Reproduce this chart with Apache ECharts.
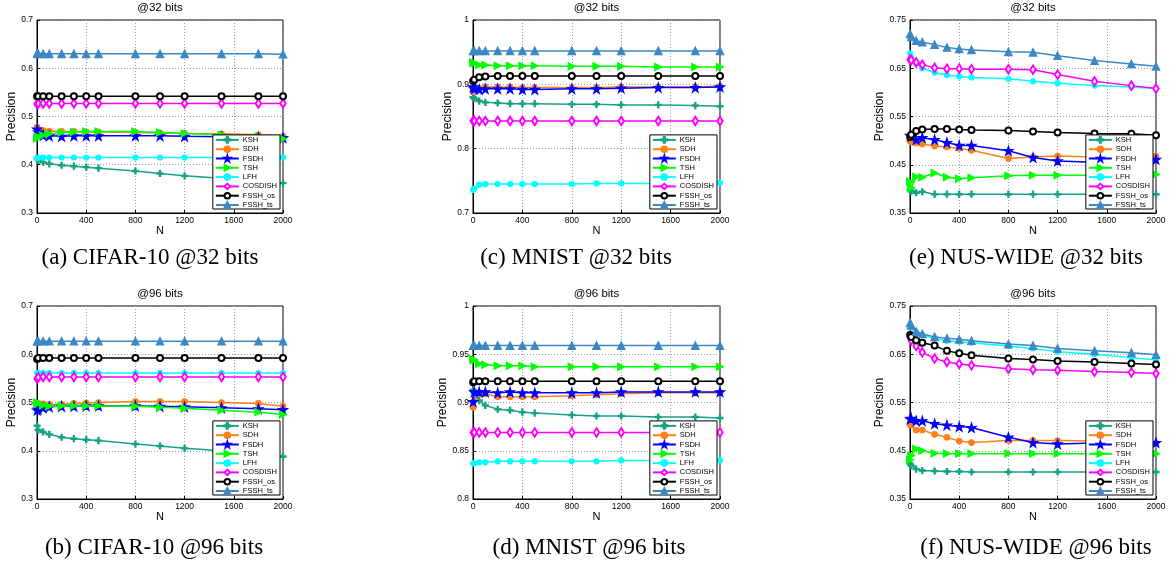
<!DOCTYPE html>
<html>
<head>
<meta charset="utf-8">
<script src="https://cdn.jsdelivr.net/npm/echarts@6/dist/echarts.min.js"></script>
<style>
  html, body { margin: 0; padding: 0; background: #fff; }
  #main { width: 1172px; height: 567px; }
</style>
</head>
<body>
<div id="main"></div>
<script>
// N values (x axis)
const nValues = [1, 10, 50, 100, 200, 300, 400, 500, 800, 1000, 1200, 1500, 1800, 2000];
const methods = ['KSH', 'SDH', 'FSDH', 'TSH', 'LFH', 'COSDISH', 'FSSH_os', 'FSSH_ts'];
const xTicks = [0, 400, 800, 1200, 1600, 2000];

// (a) CIFAR-10 @32 bits
const cifar32Ksh = [0.413, 0.409, 0.405, 0.402, 0.399, 0.397, 0.395, 0.393, 0.387, 0.382, 0.377, 0.372, 0.367, 0.362];
const cifar32Sdh = [0.478, 0.474, 0.471, 0.470, 0.469, 0.469, 0.468, 0.468, 0.467, 0.466, 0.465, 0.464, 0.462, 0.459];
const cifar32Fsdh = [0.474, 0.468, 0.461, 0.460, 0.459, 0.460, 0.460, 0.460, 0.460, 0.460, 0.459, 0.458, 0.457, 0.456];
const cifar32Tsh = [0.455, 0.458, 0.461, 0.464, 0.467, 0.468, 0.469, 0.469, 0.469, 0.467, 0.465, 0.462, 0.458, 0.454];
const cifar32Lfh = [0.414, 0.415, 0.415, 0.415, 0.415, 0.415, 0.415, 0.415, 0.415, 0.415, 0.415, 0.415, 0.415, 0.415];
const cifar32Cosdish = [0.526, 0.527, 0.527, 0.527, 0.527, 0.527, 0.527, 0.527, 0.527, 0.527, 0.527, 0.527, 0.527, 0.527];
const cifar32Os = [0.542, 0.542, 0.542, 0.542, 0.542, 0.542, 0.542, 0.542, 0.542, 0.542, 0.542, 0.542, 0.542, 0.542];
const cifar32Ts = [0.631, 0.630, 0.630, 0.630, 0.630, 0.630, 0.630, 0.630, 0.630, 0.630, 0.630, 0.630, 0.630, 0.629];

// (c) MNIST @32 bits
const mnist32Ksh = [0.880, 0.878, 0.874, 0.872, 0.871, 0.870, 0.870, 0.870, 0.869, 0.869, 0.868, 0.868, 0.867, 0.866];
const mnist32Sdh = [0.889, 0.891, 0.894, 0.896, 0.896, 0.896, 0.895, 0.895, 0.895, 0.895, 0.896, 0.896, 0.896, 0.897];
const mnist32Fsdh = [0.896, 0.893, 0.892, 0.893, 0.893, 0.893, 0.892, 0.892, 0.893, 0.893, 0.894, 0.895, 0.895, 0.896];
const mnist32Tsh = [0.934, 0.933, 0.930, 0.930, 0.929, 0.929, 0.929, 0.929, 0.928, 0.928, 0.928, 0.927, 0.927, 0.927];
const mnist32Lfh = [0.736, 0.738, 0.744, 0.745, 0.745, 0.745, 0.745, 0.745, 0.745, 0.746, 0.746, 0.746, 0.746, 0.747];
const mnist32Cosdish = [0.843, 0.843, 0.843, 0.843, 0.843, 0.843, 0.843, 0.843, 0.843, 0.843, 0.843, 0.843, 0.843, 0.843];
const mnist32Os = [0.905, 0.907, 0.911, 0.912, 0.913, 0.913, 0.913, 0.913, 0.913, 0.913, 0.913, 0.913, 0.913, 0.913];
const mnist32Ts = [0.952, 0.952, 0.952, 0.952, 0.952, 0.952, 0.952, 0.952, 0.952, 0.952, 0.952, 0.952, 0.952, 0.952];

// (e) NUS-WIDE @32 bits
const nus32Ksh = [0.398, 0.395, 0.392, 0.394, 0.389, 0.389, 0.389, 0.389, 0.389, 0.389, 0.389, 0.389, 0.389, 0.389];
const nus32Sdh = [0.499, 0.497, 0.495, 0.493, 0.489, 0.487, 0.484, 0.480, 0.463, 0.466, 0.468, 0.466, 0.466, 0.468];
const nus32Fsdh = [0.511, 0.509, 0.502, 0.506, 0.502, 0.496, 0.490, 0.490, 0.479, 0.465, 0.458, 0.455, 0.456, 0.461];
const nus32Tsh = [0.415, 0.402, 0.425, 0.424, 0.433, 0.424, 0.421, 0.423, 0.427, 0.428, 0.428, 0.428, 0.428, 0.430];
const nus32Lfh = [0.681, 0.672, 0.661, 0.650, 0.641, 0.636, 0.633, 0.631, 0.628, 0.623, 0.619, 0.614, 0.611, 0.608];
const nus32Cosdish = [0.668, 0.667, 0.662, 0.657, 0.651, 0.649, 0.649, 0.648, 0.648, 0.647, 0.637, 0.623, 0.614, 0.608];
const nus32Os = [0.508, 0.512, 0.520, 0.523, 0.524, 0.524, 0.523, 0.522, 0.521, 0.519, 0.517, 0.515, 0.514, 0.511];
const nus32Ts = [0.721, 0.715, 0.707, 0.704, 0.699, 0.693, 0.690, 0.688, 0.684, 0.683, 0.676, 0.666, 0.659, 0.654];

// (b) CIFAR-10 @96 bits
const cifar96Ksh = [0.452, 0.443, 0.439, 0.434, 0.428, 0.425, 0.423, 0.421, 0.414, 0.410, 0.405, 0.400, 0.395, 0.388];
const cifar96Sdh = [0.499, 0.498, 0.497, 0.496, 0.496, 0.498, 0.499, 0.500, 0.502, 0.502, 0.502, 0.500, 0.498, 0.492];
const cifar96Fsdh = [0.484, 0.486, 0.489, 0.491, 0.492, 0.492, 0.493, 0.493, 0.493, 0.492, 0.491, 0.489, 0.487, 0.485];
const cifar96Tsh = [0.500, 0.498, 0.494, 0.492, 0.493, 0.493, 0.493, 0.493, 0.492, 0.490, 0.488, 0.484, 0.480, 0.475];
const cifar96Lfh = [0.561, 0.561, 0.561, 0.561, 0.561, 0.561, 0.561, 0.561, 0.561, 0.561, 0.561, 0.561, 0.561, 0.561];
const cifar96Cosdish = [0.549, 0.552, 0.553, 0.553, 0.553, 0.553, 0.553, 0.553, 0.553, 0.553, 0.553, 0.553, 0.553, 0.553];
const cifar96Os = [0.590, 0.592, 0.592, 0.592, 0.592, 0.592, 0.592, 0.592, 0.592, 0.592, 0.592, 0.592, 0.592, 0.592];
const cifar96Ts = [0.627, 0.627, 0.627, 0.627, 0.627, 0.627, 0.627, 0.627, 0.627, 0.627, 0.627, 0.627, 0.627, 0.627];

// (d) MNIST @96 bits
const mnist96Ksh = [0.913, 0.910, 0.902, 0.897, 0.893, 0.892, 0.890, 0.889, 0.887, 0.886, 0.886, 0.885, 0.885, 0.884];
const mnist96Sdh = [0.895, 0.902, 0.909, 0.909, 0.906, 0.906, 0.906, 0.906, 0.907, 0.908, 0.909, 0.910, 0.910, 0.910];
const mnist96Fsdh = [0.901, 0.911, 0.911, 0.911, 0.910, 0.911, 0.910, 0.910, 0.910, 0.910, 0.911, 0.911, 0.911, 0.911];
const mnist96Tsh = [0.945, 0.944, 0.940, 0.939, 0.938, 0.938, 0.938, 0.937, 0.937, 0.937, 0.937, 0.937, 0.937, 0.937];
const mnist96Lfh = [0.837, 0.837, 0.838, 0.838, 0.839, 0.839, 0.839, 0.839, 0.839, 0.839, 0.840, 0.840, 0.840, 0.840];
const mnist96Cosdish = [0.869, 0.869, 0.869, 0.869, 0.869, 0.869, 0.869, 0.869, 0.869, 0.869, 0.869, 0.869, 0.869, 0.869];
const mnist96Os = [0.921, 0.922, 0.922, 0.922, 0.922, 0.922, 0.922, 0.922, 0.922, 0.922, 0.922, 0.922, 0.922, 0.922];
const mnist96Ts = [0.959, 0.959, 0.959, 0.959, 0.959, 0.959, 0.959, 0.959, 0.959, 0.959, 0.959, 0.959, 0.959, 0.959];

// (f) NUS-WIDE @96 bits
const nus96Ksh = [0.423, 0.419, 0.412, 0.409, 0.408, 0.407, 0.407, 0.406, 0.406, 0.406, 0.406, 0.406, 0.406, 0.406];
const nus96Sdh = [0.504, 0.503, 0.493, 0.493, 0.484, 0.478, 0.470, 0.467, 0.471, 0.471, 0.471, 0.470, 0.470, 0.465];
const nus96Fsdh = [0.516, 0.517, 0.512, 0.512, 0.506, 0.503, 0.500, 0.498, 0.478, 0.467, 0.464, 0.466, 0.468, 0.467];
const nus96Tsh = [0.431, 0.440, 0.454, 0.450, 0.445, 0.444, 0.444, 0.444, 0.444, 0.444, 0.444, 0.444, 0.444, 0.444];
const nus96Lfh = [0.708, 0.705, 0.695, 0.690, 0.683, 0.678, 0.676, 0.674, 0.667, 0.662, 0.655, 0.650, 0.643, 0.638];
const nus96Cosdish = [0.686, 0.679, 0.667, 0.654, 0.641, 0.634, 0.630, 0.627, 0.620, 0.618, 0.617, 0.614, 0.612, 0.610];
const nus96Os = [0.690, 0.686, 0.679, 0.674, 0.668, 0.657, 0.652, 0.648, 0.641, 0.639, 0.636, 0.634, 0.631, 0.629];
const nus96Ts = [0.715, 0.710, 0.697, 0.692, 0.686, 0.683, 0.681, 0.678, 0.671, 0.668, 0.662, 0.657, 0.653, 0.649];

// marker look of each method, same order as methods
const methodColors = ['#16a383', '#ff8019', '#0000ff', '#00ff00', '#00ffff', '#ff00ff', '#000000', '#3d88c4'];
const methodSymbols = [
  'path://M4,0H6V4H10V6H6V10H4V6H0V4H4Z',
  'circle',
  'path://M50,0L61,35L98,35L68,57L79,91L50,70L21,91L32,57L2,35L39,35Z',
  'path://M0,0L10,5L0,10Z',
  'circle',
  'emptyDiamond',
  'emptyCircle',
  'triangle'
];
const methodSymbolSizes = [6, 5.5, 9, 7, 5, [5.5, 8.5], 6, 7.5];

// panel layout
const panels = [
  { left: 37, top: 20, width: 246, min: 0.3, max: 0.7, step: 0.1, title: '@32 bits', caption: '(a) CIFAR-10 @32 bits', capX: 150, capY: 258,
    data: [cifar32Ksh, cifar32Sdh, cifar32Fsdh, cifar32Tsh, cifar32Lfh, cifar32Cosdish, cifar32Os, cifar32Ts] },
  { left: 473, top: 20, width: 247, min: 0.7, max: 1, step: 0.1, title: '@32 bits', caption: '(c) MNIST @32 bits', capX: 576, capY: 258,
    data: [mnist32Ksh, mnist32Sdh, mnist32Fsdh, mnist32Tsh, mnist32Lfh, mnist32Cosdish, mnist32Os, mnist32Ts] },
  { left: 910, top: 20, width: 246, min: 0.35, max: 0.75, step: 0.1, title: '@32 bits', caption: '(e) NUS-WIDE @32 bits', capX: 1026, capY: 258,
    data: [nus32Ksh, nus32Sdh, nus32Fsdh, nus32Tsh, nus32Lfh, nus32Cosdish, nus32Os, nus32Ts] },
  { left: 37, top: 306, width: 246, min: 0.3, max: 0.7, step: 0.1, title: '@96 bits', caption: '(b) CIFAR-10 @96 bits', capX: 154, capY: 548,
    data: [cifar96Ksh, cifar96Sdh, cifar96Fsdh, cifar96Tsh, cifar96Lfh, cifar96Cosdish, cifar96Os, cifar96Ts] },
  { left: 473, top: 306, width: 247, min: 0.8, max: 1, step: 0.05, title: '@96 bits', caption: '(d) MNIST @96 bits', capX: 589, capY: 548,
    data: [mnist96Ksh, mnist96Sdh, mnist96Fsdh, mnist96Tsh, mnist96Lfh, mnist96Cosdish, mnist96Os, mnist96Ts] },
  { left: 910, top: 306, width: 246, min: 0.35, max: 0.75, step: 0.1, title: '@96 bits', caption: '(f) NUS-WIDE @96 bits', capX: 1036, capY: 548,
    data: [nus96Ksh, nus96Sdh, nus96Fsdh, nus96Tsh, nus96Lfh, nus96Cosdish, nus96Os, nus96Ts] }
];
const plotHeight = 193;
const sans = 'Liberation Sans, Arial, sans-serif';

var grids = [], xAxes = [], yAxes = [], series = [], legends = [], graphics = [];

panels.forEach(function (p, k) {
  grids.push({
    left: p.left, top: p.top, width: p.width, height: plotHeight,
    show: true, borderColor: '#000', borderWidth: 1, backgroundColor: '#fff'
  });
  xAxes.push({
    type: 'value', gridIndex: k, min: 0, max: 2000, interval: 400,
    name: 'N', nameLocation: 'middle', nameGap: 12,
    nameTextStyle: { fontFamily: sans, fontSize: 11, color: '#000' },
    axisLine: { show: true, lineStyle: { color: '#000', width: 1 } },
    axisTick: { show: true, inside: true, length: 3, lineStyle: { color: '#000' } },
    axisLabel: { fontFamily: sans, fontSize: 8.5, color: '#000', margin: 3,
      formatter: function (v) { return xTicks.indexOf(v) >= 0 ? String(v) : ''; } },
    splitLine: { show: true, lineStyle: { type: [1, 2], color: '#9a9a9a', width: 1 } }
  });
  yAxes.push({
    type: 'value', gridIndex: k, min: p.min, max: p.max, interval: p.step,
    name: 'Precision', nameLocation: 'middle', nameGap: 18,
    nameTextStyle: { fontFamily: sans, fontSize: 12, color: '#000' },
    axisLine: { show: true, lineStyle: { color: '#000', width: 1 } },
    axisTick: { show: true, inside: true, length: 3, lineStyle: { color: '#000' } },
    axisLabel: { fontFamily: sans, fontSize: 8.5, color: '#000', margin: 4,
      formatter: function (v) { return String(+v.toFixed(2)); } },
    splitLine: { show: true, lineStyle: { type: [1, 2], color: '#9a9a9a', width: 1 } }
  });
  methods.forEach(function (m, i) {
    var vals = p.data[i];
    series.push({
      name: m, type: 'line', xAxisIndex: k, yAxisIndex: k,
      data: nValues.map(function (n, j) { return [n, vals[j]]; }),
      symbol: methodSymbols[i], symbolSize: methodSymbolSizes[i],
      showAllSymbol: true,
      lineStyle: { color: methodColors[i], width: 1.5 },
      itemStyle: { color: methodColors[i], borderColor: methodColors[i], borderWidth: 1.2 },
      emphasis: { disabled: true },
      z: 2 + i
    });
  });
  legends.push({
    data: methods, orient: 'vertical',
    right: 1172 - (p.left + p.width) + 3,
    bottom: 567 - (p.top + plotHeight) + 4,
    itemWidth: 23, itemHeight: 7, itemGap: 1.3,
    padding: [1, 3, 0, 2],
    backgroundColor: '#fff', borderColor: '#000', borderWidth: 1, borderRadius: 0,
    textStyle: { fontFamily: sans, fontSize: 7.5, color: '#000', lineHeight: 7, padding: [0, 0, 0, -1] },
    selectedMode: false,
    z: 20
  });
  graphics.push({
    type: 'text', x: p.left + p.width / 2, y: p.top - 12,
    style: { text: p.title, fill: '#000', font: '11.5px ' + sans, align: 'center', verticalAlign: 'middle' }
  });
  graphics.push({
    type: 'text', x: p.capX, y: p.capY,
    style: { text: p.caption, fill: '#000', font: '23px Liberation Serif, Times New Roman, serif', align: 'center', verticalAlign: 'middle' }
  });
});

var chart = echarts.init(document.getElementById('main'), null, { renderer: 'canvas' });
chart.setOption({
  animation: false,
  backgroundColor: '#fff',
  grid: grids,
  xAxis: xAxes,
  yAxis: yAxes,
  legend: legends,
  series: series,
  graphic: graphics
});
</script>
</body>
</html>
